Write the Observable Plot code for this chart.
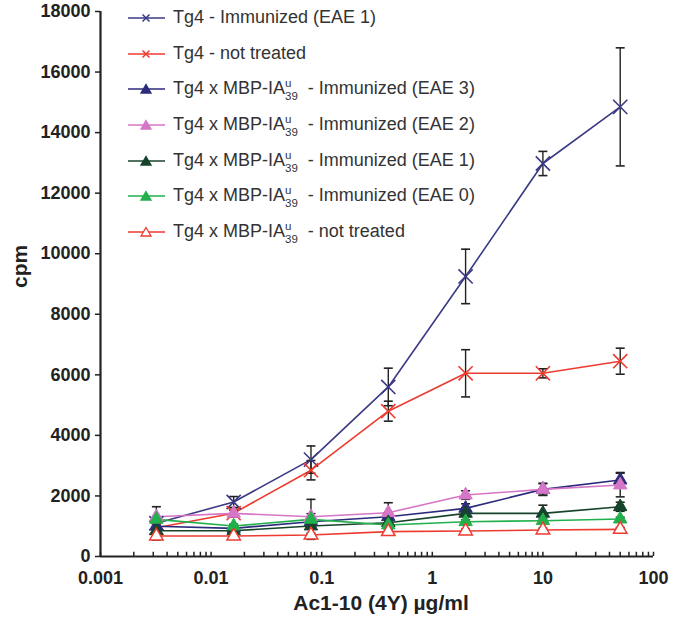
<!DOCTYPE html>
<html>
<head>
<meta charset="utf-8">
<script src="https://cdn.jsdelivr.net/npm/d3@7"></script>
<script src="https://cdn.jsdelivr.net/npm/@observablehq/plot@0.6"></script>
<style>
  html, body { margin: 0; padding: 0; background: #fff; }
  #wrap { position: relative; width: 675px; height: 624px; font-family: Arial, "Liberation Sans", sans-serif; }
  #legend { position: absolute; left: 128px; top: 0px; }
  .row { height: 35.7px; display: flex; align-items: center; font-size: 18px; color: #333; white-space: pre; }
  .row svg { margin-right: 8px; flex: none; }
  .ss { display: inline-flex; flex-direction: column; font-size: 11.5px; line-height: 13px; vertical-align: middle; position: relative; top: 1px; }
</style>
</head>
<body>
<div id="wrap"><div id="chart"></div><div id="legend"></div></div>
<script>
// ---- data ----
const doses = [0.0032, 0.016, 0.08, 0.4, 2, 10, 50];

const seriesKeys = ["tg4Imm", "tg4NT", "eae3", "eae2", "eae1", "eae0", "tgMbpNT"];
const seriesPrefix = ["Tg4", "Tg4", "Tg4 x MBP-IA", "Tg4 x MBP-IA", "Tg4 x MBP-IA", "Tg4 x MBP-IA", "Tg4 x MBP-IA"];
const seriesSuffix = [" - Immunized (EAE 1)", " - not treated", "  - Immunized (EAE 3)", "  - Immunized (EAE 2)", "  - Immunized (EAE 1)", "  - Immunized (EAE 0)", "  - not treated"];
const seriesColors = ["#3a3a85", "#ee3b30", "#2c2b7c", "#d676c6", "#17432b", "#22b04c", "#ee3b30"];
const seriesMarkers = ["times", "times", "triangle", "triangle", "triangle", "triangle", "triangle-open"];

const tg4Imm   = [1100, 1800, 3200, 5600, 9250, 12980, 14850];
const tg4ImmEr = [150, 180, 450, 620, 900, 400, 1950];
const tg4NT    = [950, 1430, 2850, 4800, 6050, 6050, 6450];
const tg4NTEr  = [100, 130, 320, 330, 780, 150, 430];
const eae3     = [1000, 930, 1150, 1314, 1590, 2217, 2524];
const eae3Er   = [80, 80, 100, 120, 150, 190, 250];
const eae2     = [1314, 1425, 1314, 1446, 2030, 2217, 2360];
const eae2Er   = [330, 100, 100, 330, 140, 200, 390];
const eae1     = [851, 851, 1006, 1116, 1425, 1425, 1643];
const eae1Er   = [60, 60, 70, 100, 100, 270, 150];
const eae0     = [1227, 1006, 1227, 1040, 1149, 1182, 1237];
const eae0Er   = [60, 60, 660, 60, 60, 60, 60];
const tgMbpNT  = [676, 676, 710, 820, 842, 875, 897];
const tgMbpNTEr= [130, 60, 60, 60, 60, 60, 60];

const yTicks = [0, 2000, 4000, 6000, 8000, 10000, 12000, 14000, 16000, 18000];
const xTicks = [0.001, 0.01, 0.1, 1, 10, 100];
const xTickLabels = ["0.001", "0.01", "0.1", "1", "10", "100"];

// ---- build table ----
const values = [tg4Imm, tg4NT, eae3, eae2, eae1, eae0, tgMbpNT];
const errors = [tg4ImmEr, tg4NTEr, eae3Er, eae2Er, eae1Er, eae0Er, tgMbpNTEr];
const rows = [];
seriesKeys.forEach((k, i) => doses.forEach((d, j) => rows.push({
  series: k, dose: d, cpm: values[i][j], lo: values[i][j] - errors[i][j], hi: values[i][j] + errors[i][j]
})));
const minorTicks = [];
for (let e = -3; e <= 1; e++) for (let m = 1; m <= 9; m++) minorTicks.push(m * Math.pow(10, e));
minorTicks.push(100);

const capSymbol = { draw(ctx) { ctx.moveTo(-4.5, 0); ctx.lineTo(4.5, 0); } };

const marks = [];
// lines
seriesKeys.forEach((k, i) => {
  marks.push(Plot.line(rows.filter(r => r.series === k), {x: "dose", y: "cpm", stroke: seriesColors[i], strokeWidth: 1.6}));
});
// error bars
marks.push(Plot.ruleX(rows, {x: "dose", y1: "lo", y2: "hi", stroke: "#222", strokeWidth: 1.4}));
marks.push(Plot.dot(rows, {x: "dose", y: "lo", symbol: capSymbol, stroke: "#222", strokeWidth: 1.6}));
marks.push(Plot.dot(rows, {x: "dose", y: "hi", symbol: capSymbol, stroke: "#222", strokeWidth: 1.6}));
// markers
seriesKeys.forEach((k, i) => {
  const data = rows.filter(r => r.series === k);
  const m = seriesMarkers[i];
  if (m === "times") {
    marks.push(Plot.dot(data, {x: "dose", y: "cpm", symbol: "times", r: 6.5, stroke: seriesColors[i], strokeWidth: 1.6}));
  } else if (m === "triangle") {
    marks.push(Plot.dot(data, {x: "dose", y: "cpm", symbol: "triangle", r: 5, fill: seriesColors[i], stroke: seriesColors[i], strokeWidth: 1}));
  } else {
    marks.push(Plot.dot(data, {x: "dose", y: "cpm", symbol: "triangle", r: 5, fill: "white", stroke: seriesColors[i], strokeWidth: 1.5}));
  }
});
// axes
marks.push(Plot.ruleX(minorTicks, {x: d => d, y1: 0, y2: 140, stroke: "#222", strokeWidth: 1.5}));
marks.push(Plot.ruleY([0], {stroke: "#222", strokeWidth: 2.2}));
marks.push(Plot.ruleX([0.001], {stroke: "#222", strokeWidth: 2.2}));
marks.push(Plot.axisY({ticks: yTicks, tickSize: 5, tickPadding: 5, tickFormat: d => String(d), fontSize: 18, fontWeight: "bold", label: null, stroke: "#222", strokeWidth: 1.5}));
marks.push(Plot.text(xTicks, {x: d => d, y: 0, text: d => xTickLabels[xTicks.indexOf(d)], dy: 22, fontSize: 18, fontWeight: "bold", fill: "#222"}));
marks.push(Plot.text(["Ac1-10 (4Y) µg/ml"], {frameAnchor: "bottom", dy: 53, dx: 4, fontSize: 21, fontWeight: "bold", fill: "#222"}));
marks.push(Plot.text(["cpm"], {frameAnchor: "left", dx: -80, dy: 4, rotate: -90, fontSize: 21, fontWeight: "bold", fill: "#222"}));

const chart = Plot.plot({
  width: 675, height: 624,
  marginLeft: 100, marginRight: 22, marginTop: 11, marginBottom: 68,
  style: {fontFamily: "Arial, 'Liberation Sans', sans-serif", color: "#222", background: "white"},
  x: {type: "log", domain: [0.001, 100], axis: null},
  y: {domain: [0, 18000]},
  marks
});
document.getElementById("chart").appendChild(chart);

// ---- legend ----
const legend = document.getElementById("legend");
seriesKeys.forEach((k, i) => {
  const row = document.createElement("div");
  row.className = "row";
  const c = seriesColors[i];
  let marker;
  if (seriesMarkers[i] === "times") {
    marker = `<path d="M14.5,4.5L21.5,11.5M21.5,4.5L14.5,11.5" stroke="${c}" stroke-width="1.5" fill="none"/>`;
  } else {
    const fill = seriesMarkers[i] === "triangle" ? c : "white";
    marker = `<path d="M18,3.5L23,12L13,12Z" fill="${fill}" stroke="${c}" stroke-width="1.3"/>`;
  }
  const sym = `<svg width="37" height="16"><line x1="0" y1="8" x2="37" y2="8" stroke="${c}" stroke-width="1.5"/>${marker}</svg>`;
  let label;
  if (seriesPrefix[i].endsWith("IA")) {
    label = `${seriesPrefix[i]}<span class="ss"><span>u</span><span>39</span></span>${seriesSuffix[i]}`;
  } else {
    label = seriesPrefix[i] + seriesSuffix[i];
  }
  row.innerHTML = sym + `<span>${label}</span>`;
  legend.appendChild(row);
});
</script>
</body>
</html>
